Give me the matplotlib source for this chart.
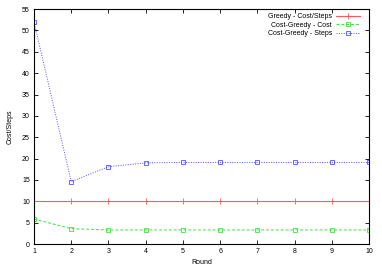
import matplotlib
matplotlib.use("Agg")
import matplotlib.pyplot as plt

rounds = [1, 2, 3, 4, 5, 6, 7, 8, 9, 10]
greedy_cost_steps = [10, 10, 10, 10, 10, 10, 10, 10, 10, 10]
cg_cost = [5.85, 3.6, 3.3, 3.3, 3.3, 3.3, 3.3, 3.3, 3.3, 3.3]
cg_steps = [52, 14.6, 18.1, 19.0, 19.1, 19.1, 19.1, 19.1, 19.1, 19.1]

plt.rcParams['font.family'] = ['Liberation Sans', 'DejaVu Sans']

fig = plt.figure(figsize=(3.82, 2.67), dpi=100)
ax = fig.add_axes([0.089, 0.086, 0.877, 0.880])

ax.plot(rounds, greedy_cost_steps, color='#ff5a5a', lw=0.8, marker='+', ms=4,
        mew=0.6, label='Greedy - Cost/Steps')
ax.plot(rounds, cg_cost, color='#40e040', lw=0.7, ls=(0, (3, 2)), marker='s',
        ms=3.5, mfc='none', mew=0.6, label='Cost-Greedy - Cost')
ax.plot(rounds, cg_steps, color='#5050ff', lw=0.7, ls=(0, (1, 1.5)), marker='s',
        ms=3.5, mfc='none', mew=0.6, label='Cost-Greedy - Steps')

ax.set_xlim(1, 10)
ax.set_ylim(0, 55)
ax.set_xticks(rounds)
ax.set_yticks(range(0, 56, 5))
ax.tick_params(direction='in', top=True, right=True, labelsize=5, length=3,
               width=0.6, pad=3)
for s in ax.spines.values():
    s.set_linewidth(0.8)
ax.set_xlabel('Round', fontsize=5, labelpad=3)
ax.set_ylabel('Cost/Steps', fontsize=5, labelpad=6)

leg = ax.legend(loc='upper right', fontsize=5, frameon=False, markerfirst=False,
                handlelength=3.5, handletextpad=0.5, labelspacing=0.2,
                borderaxespad=0.2, bbox_to_anchor=(0.985, 1.0))
for t in leg.get_texts():
    t.set_ha('right')

fig.savefig('out.png', dpi=100)
